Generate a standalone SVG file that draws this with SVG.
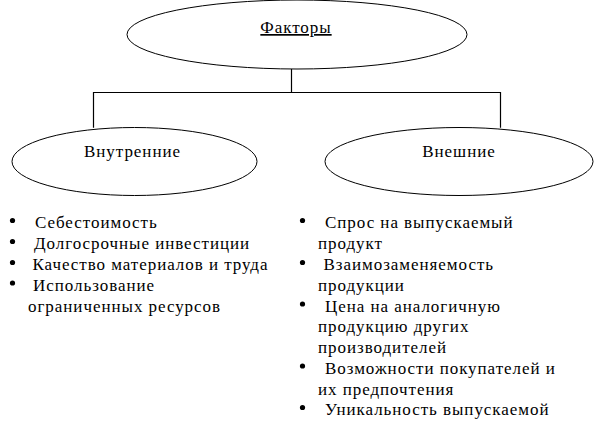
<svg xmlns="http://www.w3.org/2000/svg" width="596" height="428" viewBox="0 0 596 428" font-family="Liberation Serif, Times New Roman, serif">
<style>
.n{fill:#fff;stroke:#000;stroke-width:1}
.t{font-size:17px;fill:#000;letter-spacing:0.95px}
.c{text-anchor:middle}
.b{fill:#000}
.w{fill:none;stroke:#000;stroke-width:1.2}
</style>
<rect width="596" height="428" fill="#fff"/>
<g id="connectors">
<path class="w" d="M291.5 69V92.5M93.5 127.7V92.5H500.5V127.7"/>
</g>
<g id="factors">
<ellipse class="n" cx="297" cy="34.5" rx="170" ry="34.5"/>
<text class="t c" x="296" y="33" text-decoration="underline">Факторы</text>
</g>
<g id="internal">
<ellipse class="n" cx="134.5" cy="161.5" rx="122.5" ry="34"/>
<text class="t c" x="132.5" y="157">Внутренние</text>
</g>
<g id="external">
<ellipse class="n" cx="459" cy="161.5" rx="134" ry="34"/>
<text class="t c" x="459" y="157">Внешние</text>
</g>
<g id="internal-list">
<circle class="b" cx="12.5" cy="220.5" r="2.6"/>
<circle class="b" cx="12.5" cy="241.5" r="2.6"/>
<circle class="b" cx="12.5" cy="262.5" r="2.6"/>
<circle class="b" cx="12.5" cy="283" r="2.6"/>
<text class="t" x="35" y="228">Себестоимость</text>
<text class="t" x="34" y="249">Долгосрочные инвестиции</text>
<text class="t" x="32.5" y="270">Качество материалов и труда</text>
<text class="t" x="33" y="290.5">Использование</text>
<text class="t" x="28" y="311.5">ограниченных ресурсов</text>
</g>
<g id="external-list">
<circle class="b" cx="302.5" cy="220.5" r="2.6"/>
<circle class="b" cx="302.5" cy="262.5" r="2.6"/>
<circle class="b" cx="302.5" cy="304" r="2.6"/>
<circle class="b" cx="302.5" cy="366" r="2.6"/>
<circle class="b" cx="302.5" cy="407.5" r="2.6"/>
<text class="t" x="325" y="228">Спрос на выпускаемый</text>
<text class="t" x="318" y="249">продукт</text>
<text class="t" x="323.5" y="270">Взаимозаменяемость</text>
<text class="t" x="318" y="290.5">продукции</text>
<text class="t" x="325" y="311.5">Цена на аналогичную</text>
<text class="t" x="318" y="332">продукцию других</text>
<text class="t" x="318" y="353">производителей</text>
<text class="t" x="325" y="373.5">Возможности покупателей и</text>
<text class="t" x="318" y="394.5">их предпочтения</text>
<text class="t" x="325" y="415">Уникальность выпускаемой</text>
</g>
</svg>
